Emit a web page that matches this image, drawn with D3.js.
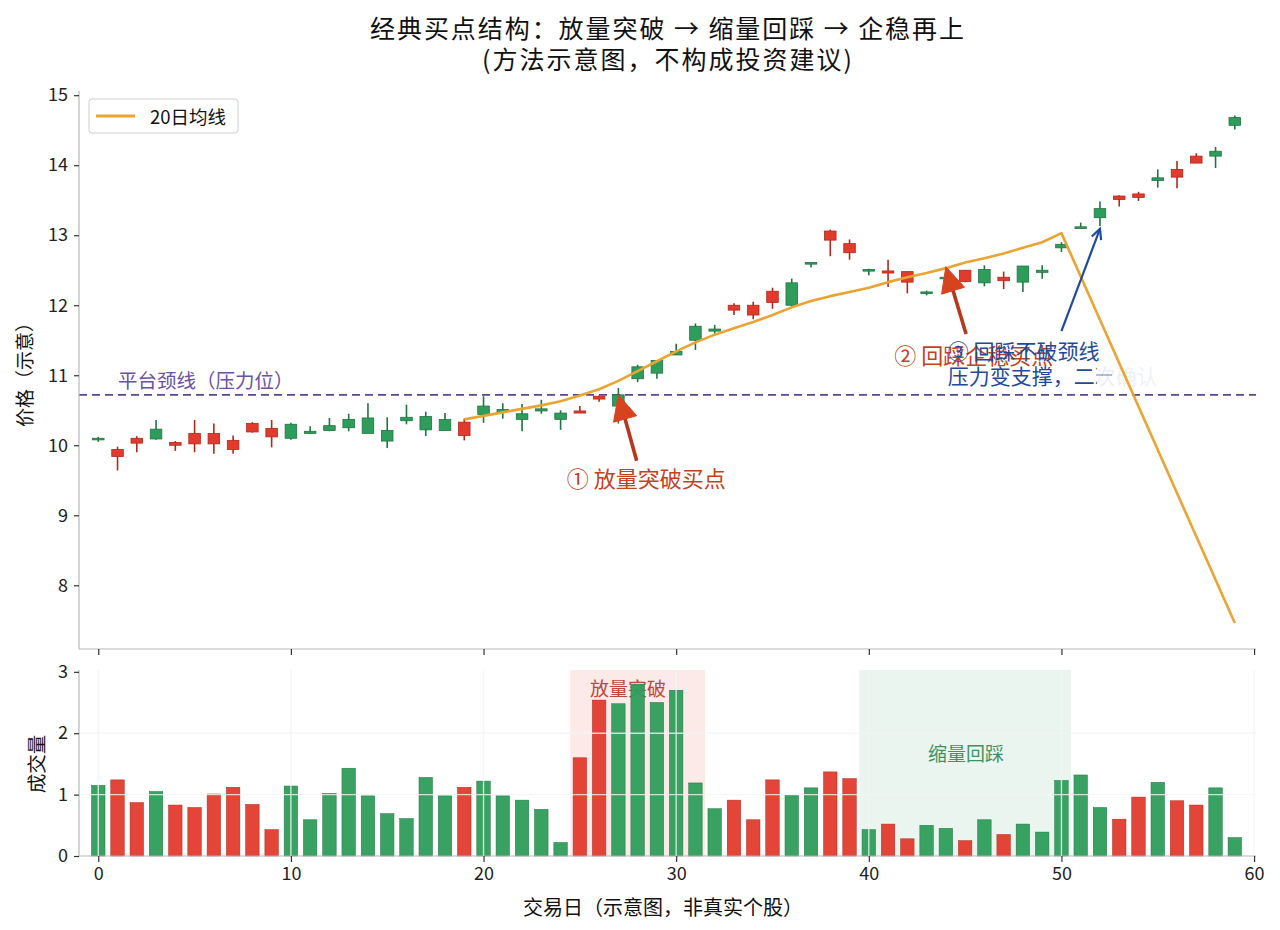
<!DOCTYPE html>
<html>
<head>
<meta charset="utf-8">
<script src="https://cdn.jsdelivr.net/npm/d3@7/dist/d3.min.js"></script>
<style>
  html, body { margin: 0; padding: 0; background: #fff; }
  svg { display: block; font-family: "Noto Sans CJK SC", "Noto Sans", sans-serif; }
</style>
</head>
<body>
<svg id="chart" width="1280" height="930"></svg>
<script>
// ---------------- DATA ----------------
const days = d3.range(0, 60);
// box top / box bottom / high / low; colour flag: 1 = red (up), 0 = green
const upFlag = [0,1,1,0,1,1,1,1,1,1, 0,0,0,0,0,0,0,0,0,1, 0,0,0,0,0,1,1,0,0,0, 0,0,0,1,1,1,0,0,1,1, 0,1,1,0,0,1,0,1,0,0, 0,0,0,1,1,0,1,1,0,0];
const boxTop = [10.10,9.94,10.10,10.23,10.04,10.17,10.17,10.07,10.31,10.24,
                10.30,10.20,10.28,10.37,10.39,10.21,10.40,10.41,10.37,10.33,
                10.56,10.51,10.45,10.52,10.46,10.49,10.70,10.72,11.12,11.21,
                11.34,11.70,11.66,12.00,12.00,12.20,12.32,12.61,13.06,12.88,
                12.51,12.49,12.48,12.19,12.40,12.50,12.51,12.40,12.56,12.50,
                12.87,13.12,13.38,13.56,13.59,13.82,13.94,14.13,14.20,14.68];
const boxBot = [10.08,9.84,10.03,10.09,10.00,10.02,10.02,9.94,10.19,10.12,
                10.10,10.17,10.21,10.25,10.17,10.06,10.35,10.22,10.21,10.14,
                10.44,10.48,10.37,10.49,10.37,10.46,10.66,10.56,10.95,11.03,
                11.29,11.50,11.63,11.93,11.86,12.04,12.00,12.59,12.93,12.75,
                12.49,12.46,12.33,12.17,12.38,12.34,12.32,12.35,12.33,12.47,
                12.82,13.10,13.25,13.51,13.54,13.78,13.83,14.03,14.13,14.57];
const high = [10.12,9.98,10.13,10.36,10.06,10.36,10.31,10.14,10.33,10.36,
              10.32,10.27,10.39,10.45,10.60,10.40,10.58,10.48,10.46,10.38,
              10.70,10.60,10.59,10.65,10.50,10.56,10.71,10.82,11.15,11.21,
              11.45,11.74,11.72,12.03,12.05,12.25,12.38,12.61,13.08,12.94,
              12.52,12.65,12.48,12.21,12.45,12.50,12.57,12.48,12.56,12.57,
              12.90,13.18,13.48,13.57,13.62,13.94,14.06,14.17,14.26,14.71];
const low = [10.05,9.64,9.90,10.08,9.92,9.90,9.88,9.88,10.18,9.97,
             10.08,10.16,10.20,10.20,10.17,9.96,10.30,10.13,10.21,10.07,
             10.32,10.38,10.20,10.45,10.22,10.46,10.62,10.31,10.90,10.95,
             11.29,11.36,11.59,11.86,11.80,11.95,11.98,12.54,12.70,12.65,
             12.43,12.26,12.17,12.14,12.33,12.33,12.27,12.23,12.19,12.38,
             12.76,13.10,13.13,13.41,13.49,13.68,13.67,14.03,13.96,14.51];
const open  = days.map(i => upFlag[i] ? boxBot[i] : boxTop[i]);
const close = days.map(i => upFlag[i] ? boxTop[i] : boxBot[i]);

const volume = [1.15,1.24,0.87,1.05,0.83,0.79,1.01,1.12,0.84,0.43,
                1.14,0.59,1.02,1.43,0.98,0.69,0.61,1.28,0.98,1.12,
                1.22,0.98,0.91,0.76,0.22,1.60,2.54,2.48,2.80,2.50,
                2.70,1.19,0.77,0.91,0.59,1.24,0.99,1.11,1.37,1.26,
                0.43,0.52,0.28,0.50,0.45,0.25,0.59,0.35,0.52,0.39,
                1.23,1.32,0.79,0.60,0.96,1.20,0.90,0.83,1.11,0.30];

const maDays = [19,20,21,22,23,24,25,26,27,28,29,30,31,32,33,34,35,36,37,38,39,40,41,42,43,44,45,46,47,48,49,50,59];
const maVals = [10.37,10.42,10.47,10.52,10.57,10.63,10.71,10.80,10.92,11.06,11.20,11.34,11.47,11.58,11.67,11.76,
                11.86,11.97,12.06,12.13,12.19,12.25,12.33,12.40,12.46,12.53,12.61,12.67,12.74,12.82,12.90,13.03,7.46];

const neckline = 10.72;
const priceTicks = [8,9,10,11,12,13,14,15];
const volTicks = [0,1,2,3];
const xTicks = [0,10,20,30,40,50,60];
const spans = [
  {from: 24.5, to: 31.5, label: "放量突破", lx: 27.5, ly: 2.74, fill: "#f9e3df", color: "#c0463a"},
  {from: 39.5, to: 50.5, label: "缩量回踩", lx: 45.05, ly: 1.69, fill: "#e4f1ea", color: "#3f9264"}
];
const titleLines = ["经典买点结构：放量突破 → 缩量回踩 → 企稳再上", "(方法示意图，不构成投资建议)"];

// ---------------- SCALES ----------------
const svg = d3.select("#chart");
const L = 79, R = 1256;
const x = d3.scaleLinear().domain([-1, 60.1]).range([L, R]);
const yP = d3.scaleLinear().domain([7.09, 15.06]).range([649, 91]);
const yV = d3.scaleLinear().domain([0, 3.03]).range([856, 670]);

const RED = "#e23b2d", RED_D = "#b0281c";
const GREEN = "#2e9d5b", GREEN_D = "#1f7443";
const fnt = '"Noto Sans CJK SC", sans-serif';

// ---------------- TITLE ----------------
svg.append("text").attr("x", 667).attr("y", 38).attr("text-anchor", "middle")
  .attr("font-size", 25).attr("fill", "#111").attr("textLength", 594).attr("lengthAdjust", "spacing")
  .text(titleLines[0]);
svg.append("text").attr("x", 667).attr("y", 69).attr("text-anchor", "middle")
  .attr("font-size", 25).attr("fill", "#111").attr("textLength", 370).attr("lengthAdjust", "spacing")
  .text(titleLines[1]);

// ---------------- PRICE PANEL ----------------
const gP = svg.append("g");

// neckline
gP.append("line").attr("x1", L).attr("x2", R).attr("y1", yP(neckline)).attr("y2", yP(neckline))
  .attr("stroke", "#5a4690").attr("stroke-width", 1.8).attr("stroke-dasharray", "8,5");
gP.append("text").attr("x", 118).attr("y", 388).attr("font-size", 19.5).attr("fill", "#6a51a3")
  .text("平台颈线（压力位）");

// candles
const cw = (x(0.6) - x(0));
const cg = gP.append("g");
days.forEach(i => {
  const up = close[i] >= open[i];
  const fill = up ? RED : GREEN, dark = up ? RED_D : GREEN_D;
  cg.append("line").attr("x1", x(i)).attr("x2", x(i)).attr("y1", yP(high[i])).attr("y2", yP(low[i]))
    .attr("stroke", dark).attr("stroke-width", 1.6);
  const t = yP(Math.max(open[i], close[i])), b = yP(Math.min(open[i], close[i]));
  cg.append("rect").attr("x", x(i) - cw / 2).attr("width", cw)
    .attr("y", t).attr("height", Math.max(b - t, 1.6))
    .attr("fill", fill).attr("stroke", dark).attr("stroke-width", 0.8);
});

// annotation texts
const ANN_RED = "#c4401e", ANN_BLUE = "#1f4a9a";
gP.append("text").attr("x", x(28.45)).attr("y", yP(9.54)).attr("text-anchor", "middle")
  .attr("dominant-baseline", "central").attr("font-size", 22).attr("fill", ANN_RED).text("① 放量突破买点");
gP.append("text").attr("x", x(45.45)).attr("y", yP(11.30)).attr("text-anchor", "middle")
  .attr("dominant-baseline", "central").attr("font-size", 22).attr("fill", ANN_RED).text("② 回踩企稳买点");
gP.append("text").attr("x", x(44.1)).attr("y", yP(11.36)).attr("dominant-baseline", "central")
  .attr("font-size", 21).attr("fill", ANN_BLUE).text("③ 回踩不破颈线");
gP.append("text").attr("x", x(44.1)).attr("y", yP(11.01)).attr("dominant-baseline", "central")
  .attr("font-size", 21).attr("fill", ANN_BLUE).text("压力变支撑，二次确认");
// whitish blur covering the end of the blue note
const blur = svg.append("defs").append("linearGradient").attr("id", "fade");
blur.append("stop").attr("offset", "0%").attr("stop-color", "#fff").attr("stop-opacity", 0.9);
blur.append("stop").attr("offset", "85%").attr("stop-color", "#fff").attr("stop-opacity", 0.93);
blur.append("stop").attr("offset", "100%").attr("stop-color", "#fff").attr("stop-opacity", 0.7);
gP.append("rect").attr("x", 1097).attr("y", 361).attr("width", 70).attr("height", 26).attr("fill", "url(#fade)");
gP.append("line").attr("x1", 1096).attr("x2", 1112).attr("y1", 375).attr("y2", 375)
  .attr("stroke", ANN_BLUE).attr("stroke-opacity", 0.35).attr("stroke-width", 2);

// MA line
const maData = maDays.map((d, k) => [d, maVals[k]]);
gP.append("path").datum(maData)
  .attr("d", d3.line().x(d => x(d[0])).y(d => yP(d[1])))
  .attr("fill", "none").attr("stroke", "#eaa431").attr("stroke-width", 2.6).attr("stroke-linejoin", "round");

// arrows
function fatArrow(g, x1, y1, x2, y2, color) {
  const dx = x2 - x1, dy = y2 - y1, len = Math.hypot(dx, dy);
  const ux = dx / len, uy = dy / len, px = -uy, py = ux;
  const hl = 25, hw = 12;
  const bx = x2 - ux * hl, by = y2 - uy * hl;
  g.append("line").attr("x1", x1).attr("y1", y1).attr("x2", bx + ux * 2).attr("y2", by + uy * 2)
    .attr("stroke", "#b5381c").attr("stroke-width", 3.6);
  g.append("path").attr("d", `M${x2},${y2} L${bx + px * hw},${by + py * hw} L${bx - px * hw},${by - py * hw} Z`)
    .attr("fill", color).attr("stroke", color).attr("stroke-width", 1);
}
function thinArrow(g, x1, y1, x2, y2, color) {
  const dx = x2 - x1, dy = y2 - y1, len = Math.hypot(dx, dy);
  const ux = dx / len, uy = dy / len, px = -uy, py = ux;
  const hl = 10, hw = 5;
  g.append("line").attr("x1", x1).attr("y1", y1).attr("x2", x2).attr("y2", y2)
    .attr("stroke", color).attr("stroke-width", 2.2);
  g.append("path").attr("d", `M${x2 - ux * hl + px * hw},${y2 - uy * hl + py * hw} L${x2},${y2} L${x2 - ux * hl - px * hw},${y2 - uy * hl - py * hw}`)
    .attr("fill", "none").attr("stroke", color).attr("stroke-width", 2.2);
}
fatArrow(gP, x(27.95), yP(9.78), x(27), yP(10.72), "#d8431f");
fatArrow(gP, x(45.05), yP(11.59), x(44.0), yP(12.55), "#d8431f");
thinArrow(gP, x(50.0), yP(11.63), x(52.0), yP(13.09), ANN_BLUE);

// legend
const lg = svg.append("g");
lg.append("rect").attr("x", 89).attr("y", 99).attr("width", 149).attr("height", 34).attr("rx", 3)
  .attr("fill", "#fff").attr("fill-opacity", 0.85).attr("stroke", "#cfcfcf");
lg.append("line").attr("x1", 96).attr("x2", 135).attr("y1", 116).attr("y2", 116)
  .attr("stroke", "#eaa431").attr("stroke-width", 3);
lg.append("text").attr("x", 150).attr("y", 116).attr("dominant-baseline", "central")
  .attr("font-size", 18.5).attr("fill", "#111").text("20日均线");

// price axes
const axP = svg.append("g").attr("transform", `translate(${L},0)`)
  .call(d3.axisLeft(yP).tickValues(priceTicks).tickSize(5).tickPadding(6).tickFormat(d3.format("d")));
const axPX = svg.append("g").attr("transform", `translate(0,649)`)
  .call(d3.axisBottom(x).tickValues(xTicks).tickSize(6).tickFormat(""));

// ---------------- VOLUME PANEL ----------------
const gV = svg.append("g");
spans.forEach(s => {
  gV.append("rect").attr("x", x(s.from)).attr("width", x(s.to) - x(s.from))
    .attr("y", yV(3.03)).attr("height", yV(0) - yV(3.03)).attr("fill", s.fill).attr("fill-opacity", 0.75);
  gV.append("text").attr("x", x(s.lx)).attr("y", yV(s.ly)).attr("text-anchor", "middle")
    .attr("dominant-baseline", "central").attr("font-size", 19).attr("fill", s.color).text(s.label);
});
const bw = x(0.7) - x(0);
days.forEach(i => {
  const up = close[i] >= open[i];
  gV.append("rect").attr("x", x(i) - bw / 2).attr("width", bw)
    .attr("y", yV(volume[i])).attr("height", yV(0) - yV(volume[i]))
    .attr("fill", up ? RED : GREEN).attr("fill-opacity", 0.95)
    .attr("stroke", up ? RED_D : GREEN_D).attr("stroke-width", 0.5);
});
// light grid drawn over the bars
const grid = gV.append("g").attr("stroke", "#f3f6f4").attr("stroke-width", 1.4).attr("opacity", 0.8);
[1, 2].forEach(v => grid.append("line").attr("x1", L).attr("x2", R).attr("y1", yV(v)).attr("y2", yV(v)));
xTicks.forEach(v => grid.append("line").attr("x1", x(v)).attr("x2", x(v)).attr("y1", yV(3.03)).attr("y2", yV(0)));

const axV = svg.append("g").attr("transform", `translate(${L},0)`)
  .call(d3.axisLeft(yV).tickValues(volTicks).tickSize(5).tickPadding(6).tickFormat(d3.format("d")));
const axVX = svg.append("g").attr("transform", `translate(0,856)`)
  .call(d3.axisBottom(x).tickValues(xTicks).tickSize(6).tickPadding(5).tickFormat(d3.format("d")));

// axis styling
[axP, axPX, axV, axVX].forEach(a => {
  a.selectAll("text").attr("font-size", 18).attr("fill", "#222").attr("font-family", fnt);
  a.selectAll(".tick line").attr("stroke", "#333").attr("stroke-width", 1.2);
  a.select(".domain").attr("stroke", "#b8b8b8").attr("stroke-width", 1.2);
});
// simple spines
axP.select(".domain").attr("d", `M0,${yP(15.06)}V649`);
axPX.select(".domain").attr("d", `M${L},0H${R}`);
axV.select(".domain").attr("d", `M0,${yV(3.03)}V856`);
axVX.select(".domain").attr("d", `M${L},0H${R}`);

// axis titles
svg.append("text").attr("transform", `translate(23,370) rotate(-90)`).attr("text-anchor", "middle")
  .attr("dominant-baseline", "central").attr("font-size", 19).attr("fill", "#111").text("价格（示意）");
svg.append("text").attr("transform", `translate(35,764) rotate(-90)`).attr("text-anchor", "middle")
  .attr("dominant-baseline", "central").attr("font-size", 19.5).attr("fill", "#111").text("成交量");
svg.append("text").attr("x", 663).attr("y", 906).attr("text-anchor", "middle")
  .attr("dominant-baseline", "central").attr("font-size", 20).attr("fill", "#111").text("交易日（示意图，非真实个股）");
</script>
</body>
</html>
